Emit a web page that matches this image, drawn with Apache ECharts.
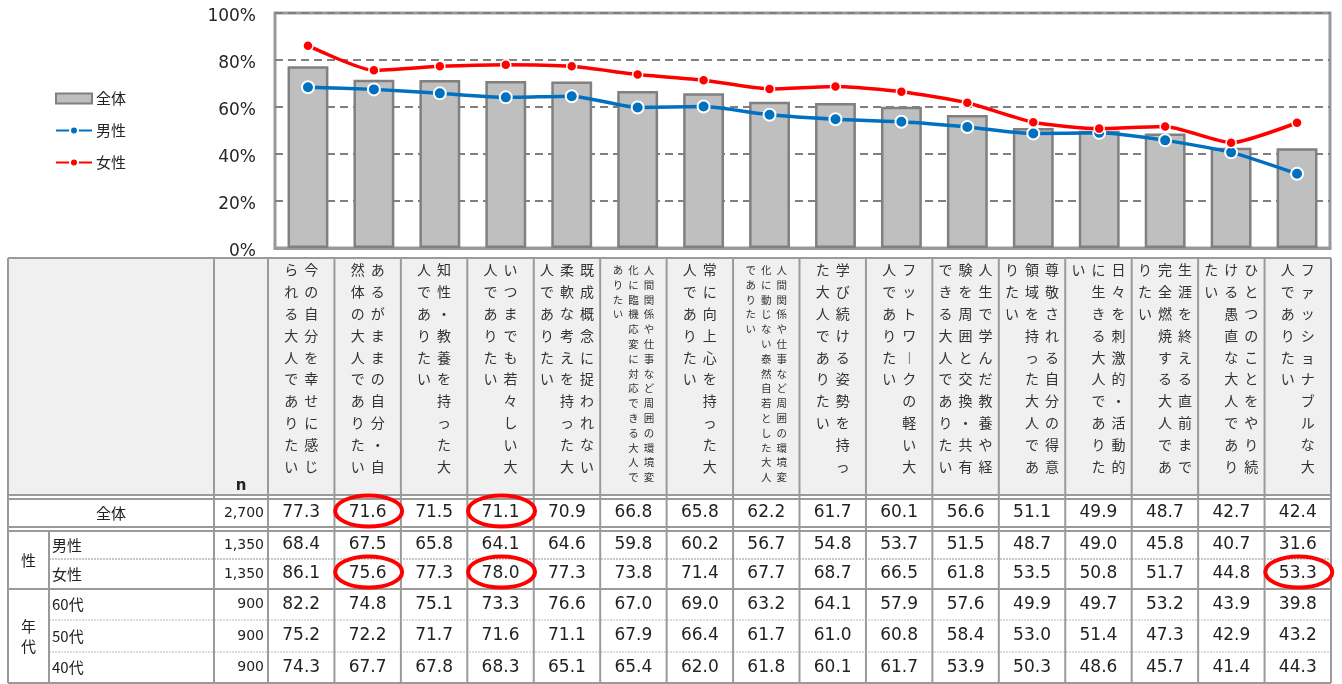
<!DOCTYPE html>
<html>
<head>
<meta charset="utf-8">
<script src="https://cdn.jsdelivr.net/npm/echarts@6/dist/echarts.min.js"></script>
<style>
html,body{margin:0;padding:0;background:#fff;}
#c{width:1342px;height:684px;}
</style>
</head>
<body>
<div id="c"></div>
<script>
// ---------- DATA ----------
const headerLines = [
  ['今の自分を幸せに感じ','られる大人でありたい'],
  ['あるがままの自分・自','然体の大人でありたい'],
  ['知性・教養を持った大','人でありたい'],
  ['いつまでも若々しい大','人でありたい'],
  ['既成概念に捉われない','柔軟な考えを持った大','人でありたい'],
  ['人間関係や仕事など周囲の環境変','化に臨機応変に対応できる大人で','ありたい'],
  ['常に向上心を持った大','人でありたい'],
  ['人間関係や仕事など周囲の環境変','化に動じない泰然自若とした大人','でありたい'],
  ['学び続ける姿勢を持っ','た大人でありたい'],
  ['フットワークの軽い大','人でありたい'],
  ['人生で学んだ教養や経','験を周囲と交換・共有','できる大人でありたい'],
  ['尊敬される自分の得意','領域を持った大人であ','りたい'],
  ['日々を刺激的・活動的','に生きる大人でありた','い'],
  ['生涯を終える直前まで','完全燃焼する大人であ','りたい'],
  ['ひとつのことをやり続','ける愚直な大人であり','たい'],
  ['ファッショナブルな大','人でありたい']
];
const categories = headerLines.map(l => l.join(''));
const seriesNames = ['全体','男性','女性'];
const totalVals  = [77.3,71.6,71.5,71.1,70.9,66.8,65.8,62.2,61.7,60.1,56.6,51.1,49.9,48.7,42.7,42.4];
const maleVals   = [68.4,67.5,65.8,64.1,64.6,59.8,60.2,56.7,54.8,53.7,51.5,48.7,49.0,45.8,40.7,31.6];
const femaleVals = [86.1,75.6,77.3,78.0,77.3,73.8,71.4,67.7,68.7,66.5,61.8,53.5,50.8,51.7,44.8,53.3];
const age60Vals  = [82.2,74.8,75.1,73.3,76.6,67.0,69.0,63.2,64.1,57.9,57.6,49.9,49.7,53.2,43.9,39.8];
const age50Vals  = [75.2,72.2,71.7,71.6,71.1,67.9,66.4,61.7,61.0,60.8,58.4,53.0,51.4,47.3,42.9,43.2];
const age40Vals  = [74.3,67.7,67.8,68.3,65.1,65.4,62.0,61.8,60.1,61.7,53.9,50.3,48.6,45.7,41.4,44.3];
const rowLabels  = ['全体','男性','女性','60代','50代','40代'];
const rowN       = [2700,1350,1350,900,900,900];
const groupLabels = [{text:'性', rows:[1,2]}, {text:'年\n代', rows:[3,5]}];
const highlights = [[0,1],[0,3],[2,1],[2,3],[2,15]];
const yTicks = [0,20,40,60,80,100];

// ---------- CHART ----------
const chart = echarts.init(document.getElementById('c'));
const tableRows = [totalVals, maleVals, femaleVals, age60Vals, age50Vals, age40Vals];

// table layout
const T = {left:8, grpR:49, labelR:214, nR:268, right:1331, hTop:258, hBot:495,
  rows:[[499,527],[531,559],[559,589],[589,620],[620,652],[652,683]]};
T.colW = (T.right - T.nR) / categories.length;
const colL = i => T.nR + i * T.colW;
const colC = i => T.nR + (i + 0.5) * T.colW;
const rowC = r => (T.rows[r][0] + T.rows[r][1]) / 2;

const LC = '#9a9a9a';
const JP = '"Noto Sans CJK JP", sans-serif';
const NUM = '"DejaVu Sans", Verdana, sans-serif';
const g = [];
// header background
g.push({type:'rect', shape:{x:T.left, y:T.hTop, width:T.right-T.left, height:T.hBot-T.hTop}, style:{fill:'#f0f0f0'}, silent:true, z:0});
function hline(x1,x2,y,w,dash){ g.push({type:'line', shape:{x1,y1:y,x2,y2:y}, style:{stroke:dash?'#b8b8b8':LC, lineWidth:w, lineDash:dash||null}, silent:true, z:2}); }
function vline(x,y1,y2,w){ g.push({type:'line', shape:{x1:x,y1,x2:x,y2}, style:{stroke:LC, lineWidth:w}, silent:true, z:2}); }
// horizontal lines
hline(T.left, T.right, T.hTop, 2);
hline(T.left, T.right, T.hBot, 2);
hline(T.left, T.right, T.rows[0][0], 2);
hline(T.left, T.right, T.rows[0][1], 2);
hline(T.left, T.right, T.rows[1][0], 2);
hline(T.grpR, T.right, T.rows[2][0], 1.5, [2,1]);
hline(T.left, T.right, T.rows[3][0], 2);
hline(T.grpR, T.right, T.rows[4][0], 1, [2,1]);
hline(T.grpR, T.right, T.rows[5][0], 1, [2,1]);
hline(T.left, T.right, T.rows[5][1], 2);
// vertical lines
vline(T.left, T.hTop, T.rows[5][1], 2);
vline(T.grpR, T.rows[1][0], T.rows[5][1], 2);
vline(T.labelR, T.hTop, T.rows[5][1], 2);
for (let i = 0; i <= categories.length; i++) vline(colL(i), T.hTop, T.rows[5][1], 2);

// header vertical texts
headerLines.forEach((lines, i) => {
  const small = lines[0].length > 10;
  const fs = small ? 10.5 : 14;
  const lh = small ? 14.8 : 21.8;
  const sp = small ? 15.5 : 20;
  const k = lines.length;
  lines.forEach((ln, j) => {
    const x = colC(i) + ((k - 1) / 2 - j) * sp;
    const txt = ln.replace(/ー/g, '︱').split('').join('\n');
    g.push({type:'text', x, y: 270 - lh / 2, silent:true, z:3,
      style:{text:txt, fill:'#333', font:`${fs}px ${JP}`, lineHeight:lh, align:'center', verticalAlign:'top'}});
  });
});
g.push({type:'text', x:(T.labelR+T.nR)/2, y:486, silent:true, z:3,
  style:{text:'n', fill:'#222', font:`bold 15px ${NUM}`, align:'center', verticalAlign:'middle'}});

// rows
tableRows.forEach((vals, r) => {
  const cy = rowC(r);
  if (r === 0) {
    g.push({type:'text', x:(T.left+T.labelR)/2, y:cy, silent:true, z:3,
      style:{text:rowLabels[r], fill:'#222', font:`15px ${JP}`, align:'center', verticalAlign:'middle'}});
  } else {
    g.push({type:'text', x:T.grpR+3, y:cy, silent:true, z:3,
      style:{text:rowLabels[r], fill:'#222', font:`15px ${JP}`, align:'left', verticalAlign:'middle'}});
  }
  g.push({type:'text', x:T.nR-4, y:cy, silent:true, z:3,
    style:{text:rowN[r].toLocaleString('en-US'), fill:'#222', font:`14px ${NUM}`, align:'right', verticalAlign:'middle'}});
  vals.forEach((v, i) => {
    g.push({type:'text', x:colC(i), y:cy, silent:true, z:3,
      style:{text:v.toFixed(1), fill:'#222', font:`17px ${NUM}`, align:'center', verticalAlign:'middle'}});
  });
});
groupLabels.forEach(gl => {
  const cy = (T.rows[gl.rows[0]][0] + T.rows[gl.rows[1]][1]) / 2;
  g.push({type:'text', x:(T.left+T.grpR)/2, y:cy, silent:true, z:3,
    style:{text:gl.text, fill:'#222', font:`15px ${JP}`, lineHeight:20, align:'center', verticalAlign:'middle'}});
});
// highlight ellipses
highlights.forEach(([r, i]) => {
  g.push({type:'ellipse', shape:{cx:colC(i)+1, cy:rowC(r)-2, rx:33.5, ry:15.5}, silent:true, z:5,
    style:{fill:null, stroke:'#ff0000', lineWidth:4}});
});

const option = {
  animation:false,
  backgroundColor:'#fff',
  legend:{
    orient:'vertical', left:50, top:86, itemWidth:36, itemHeight:10, itemGap:17,
    textStyle:{fontSize:15, color:'#222', fontFamily:JP, padding:[0,0,0,-1]},
    data:[{name:seriesNames[0], icon:'rect'}, seriesNames[1], seriesNames[2]]
  },
  grid:{left:275, right:12, top:13, bottom:436, show:true, borderColor:'#999', borderWidth:3},
  xAxis:{type:'category', data:categories, axisLabel:{show:false}, axisTick:{show:false},
    axisLine:{show:true, lineStyle:{color:'#999', width:3}}},
  yAxis:{type:'value', min:yTicks[0], max:yTicks[yTicks.length-1], interval:yTicks[1]-yTicks[0],
    axisLabel:{formatter:'{a|{value}%}', margin:19,
      rich:{a:{fontSize:17, color:'#262626', fontFamily:NUM, padding:[7,0,0,0]}}},
    axisLine:{show:false}, axisTick:{show:false},
    splitLine:{show:true, lineStyle:{color:'#808080', width:2, type:[8,5]}}},
  series:[
    {name:seriesNames[0], type:'bar', data:totalVals, barWidth:'62%',
      itemStyle:{color:'#bfbfbf', borderColor:'#808080', borderWidth:2.5}, z:2},
    {name:seriesNames[1], type:'line', data:maleVals, smooth:0.2, symbol:'circle', symbolSize:12,
      lineStyle:{color:'#0070c0', width:3.5},
      itemStyle:{color:'#0070c0', borderColor:'#fff', borderWidth:2}, z:3},
    {name:seriesNames[2], type:'line', data:femaleVals, smooth:0.2, symbol:'circle', symbolSize:10,
      lineStyle:{color:'#ff0000', width:3.5},
      itemStyle:{color:'#ff0000', borderColor:'#fff', borderWidth:1.5}, z:4}
  ],
  graphic:g
};
chart.setOption(option);
</script>
</body>
</html>
